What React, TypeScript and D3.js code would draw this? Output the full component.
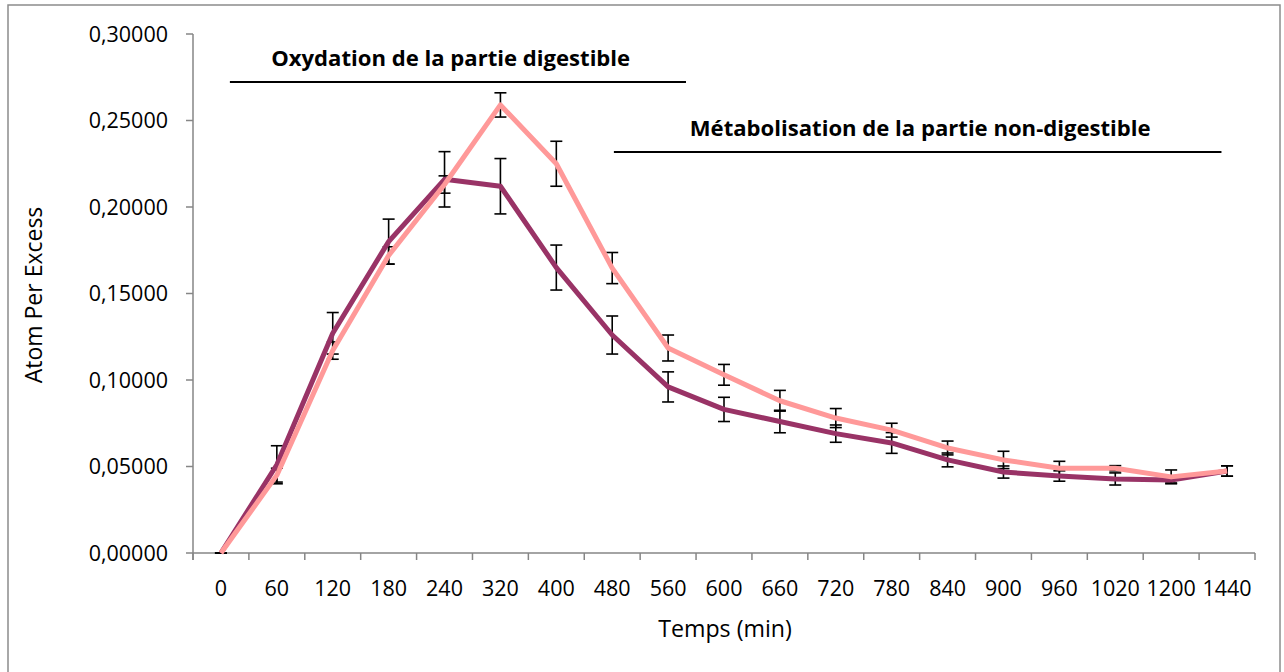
import React from "react";
import * as d3 from "d3";

const categories = ["0","60","120","180","240","320","400","480","560","600","660","720","780","840","900","960","1020","1200","1440"];
const seriesDark = [0, 0.051, 0.127, 0.180, 0.216, 0.212, 0.165, 0.126, 0.096, 0.083, 0.076, 0.069, 0.0636, 0.0538, 0.0468, 0.0445, 0.0428, 0.0422, 0.0474];
const errDark = [0, 0.011, 0.012, 0.013, 0.016, 0.016, 0.013, 0.011, 0.0087, 0.007, 0.0065, 0.005, 0.006, 0.004, 0.0035, 0.003, 0.0035, 0.0017, 0.003];
const seriesLight = [0, 0.045, 0.117, 0.172, 0.213, 0.259, 0.225, 0.1647, 0.1185, 0.103, 0.088, 0.078, 0.071, 0.0607, 0.0538, 0.049, 0.049, 0.044, 0.0474];
const errLight = [0, 0.004, 0.005, 0.005, 0.005, 0.007, 0.013, 0.009, 0.0075, 0.006, 0.006, 0.0055, 0.004, 0.004, 0.005, 0.004, 0.0015, 0.004, 0.003];
const yTicks = [0, 0.05, 0.1, 0.15, 0.2, 0.25, 0.3];
const annotations = [
  { text: "Oxydation de la partie digestible", from: 0.16, to: 8.32, lineY: 0.2723, textY: 0.2815, textCenter: 4.11 },
  { text: "Métabolisation de la partie non-digestible", from: 7.03, to: 17.9, lineY: 0.2318, textY: 0.2408, textCenter: 12.51 },
];

const W = 1284, H = 672;
const plot = { left: 193, right: 1255, top: 34, bottom: 553 };
const FONT = "'Open Sans', Lato, sans-serif";
const AXIS = "#868686";

export default function App() {
  const x = d3.scaleBand<string>().domain(categories).range([plot.left, plot.right]).paddingInner(0).paddingOuter(0);
  const xc = (i: number) => (x(categories[i]) as number) + x.bandwidth() / 2;
  const xf = d3.scaleLinear().domain([-0.5, categories.length - 0.5]).range([plot.left, plot.right]);
  const y = d3.scaleLinear().domain([0, 0.3]).range([plot.bottom, plot.top]);
  const line = d3.line<number>().x((_, i) => xc(i)).y(d => y(d)).curve(d3.curveLinear);
  const boundaries = d3.range(categories.length + 1).map(i => plot.left + i * x.bandwidth());

  const errBars = (vals: number[], errs: number[], key: string) =>
    vals.map((v, i) => {
      const cx = xc(i);
      const y1 = y(v + errs[i]);
      const y2 = y(v - errs[i]);
      return (
        <g key={key + i} stroke="#000" strokeWidth={1.6}>
          <line x1={cx} x2={cx} y1={y1} y2={y2} />
          <line x1={cx - 6} x2={cx + 6} y1={y1} y2={y1} />
          <line x1={cx - 6} x2={cx + 6} y1={y2} y2={y2} />
        </g>
      );
    });

  return (
    <svg width={W} height={H} style={{ position: "absolute", left: 0, top: 0, background: "#fff" }}>
      <rect x={8} y={5} width={1272} height={700} fill="#fff" stroke="#8c8c8c" strokeWidth={1.5} />
      {/* y axis */}
      <line x1={plot.left} x2={plot.left} y1={plot.top} y2={plot.bottom + 7} stroke={AXIS} strokeWidth={1.5} />
      {yTicks.map(t => (
        <g key={"yt" + t}>
          <line x1={plot.left - 7} x2={plot.left} y1={y(t)} y2={y(t)} stroke={AXIS} strokeWidth={1.5} />
          <text x={168} y={y(t)} dy="0.36em" textAnchor="end" fontFamily={FONT} fontSize={21.5} fill="#000">
            {d3.format(".5f")(t).replace(".", ",")}
          </text>
        </g>
      ))}
      {/* x axis */}
      <line x1={plot.left} x2={plot.right} y1={plot.bottom} y2={plot.bottom} stroke={AXIS} strokeWidth={1.5} />
      {boundaries.map((b, i) => (
        <line key={"xb" + i} x1={b} x2={b} y1={plot.bottom} y2={plot.bottom + 7} stroke={AXIS} strokeWidth={1.5} />
      ))}
      {categories.map((c, i) => (
        <text key={"xl" + c} x={xc(i)} y={596} textAnchor="middle" fontFamily={FONT} fontSize={21.5} fill="#000">{c}</text>
      ))}
      <text x={725} y={637} textAnchor="middle" fontFamily={FONT} fontSize={23.2} fill="#000">Temps (min)</text>
      <text transform={`translate(42, 295) rotate(-90)`} textAnchor="middle" fontFamily={FONT} fontSize={23} fill="#000">Atom Per Excess</text>
      {/* annotations */}
      {annotations.map(a => (
        <g key={a.text}>
          <text x={xf(a.textCenter)} y={y(a.textY)} textAnchor="middle" fontFamily={FONT} fontWeight="bold" fontSize={22.1} fill="#000">{a.text}</text>
          <line x1={xf(a.from)} x2={xf(a.to)} y1={y(a.lineY)} y2={y(a.lineY)} stroke="#000" strokeWidth={2} />
        </g>
      ))}
      {/* error bars */}
      {errBars(seriesDark, errDark, "d")}
      {errBars(seriesLight, errLight, "l")}
      {/* lines */}
      <path d={line(seriesDark) as string} fill="none" stroke="#993366" strokeWidth={5} strokeLinejoin="round" />
      <path d={line(seriesLight) as string} fill="none" stroke="#FF9999" strokeWidth={5} strokeLinejoin="round" />
    </svg>
  );
}
